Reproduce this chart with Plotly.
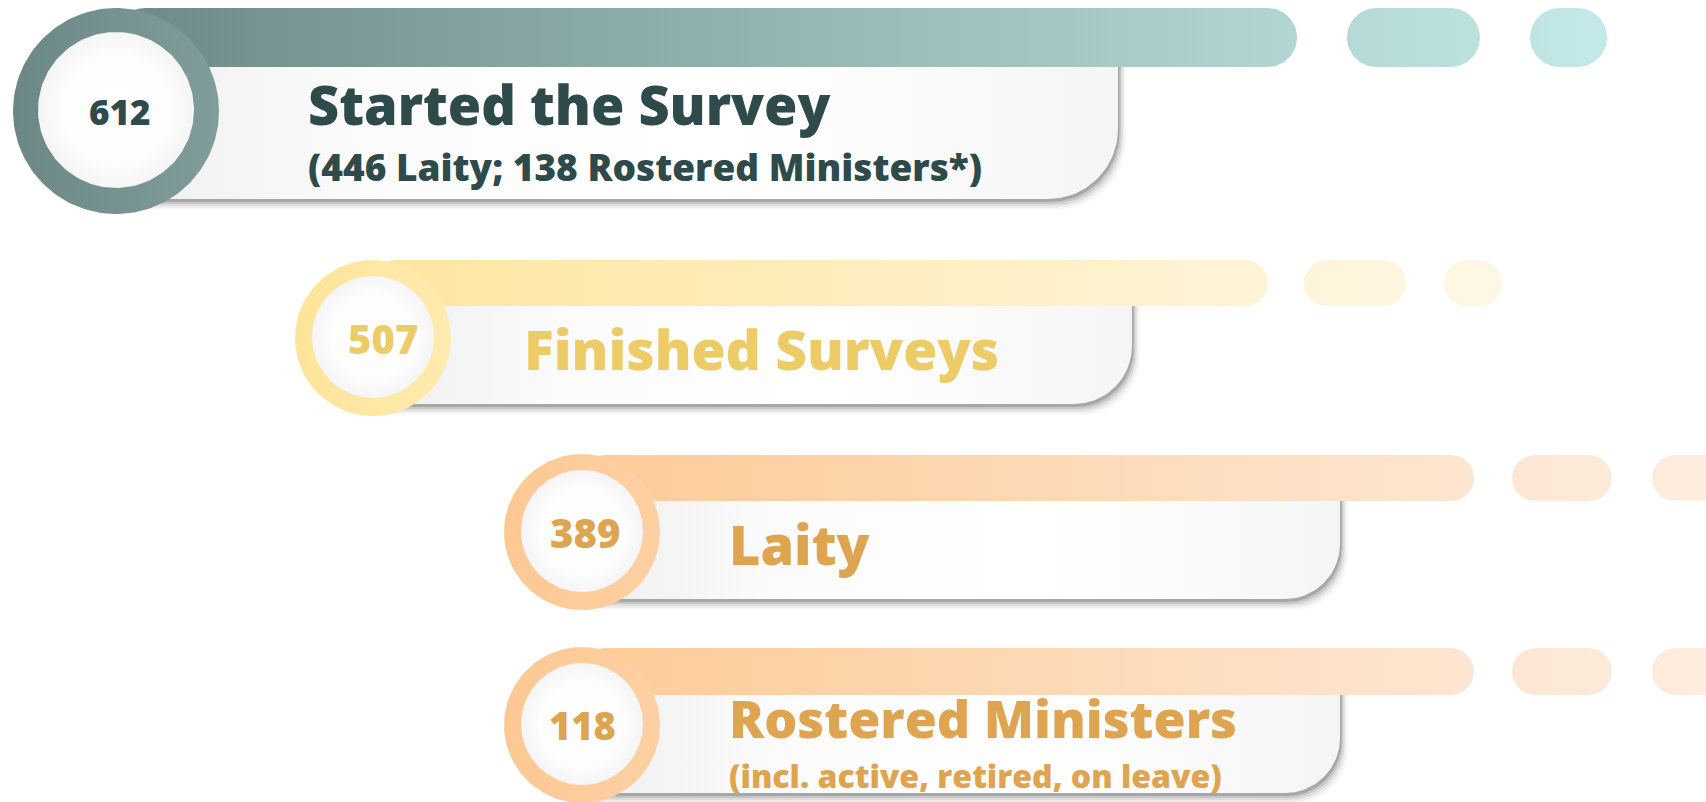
import numpy as np
import plotly.graph_objects as go

# ---------------- data ----------------
counts = [612, 507, 389, 118]
titles = ["Started the Survey", "Finished Surveys", "Laity", "Rostered Ministers"]
subtitles = ["(446 Laity; 138 Rostered Ministers*)", "", "", "(incl. active, retired, on leave)"]

# ---------------- layout geometry (pixels) ----------------
W, H = 1706, 802
cx = [116, 373, 582, 582]
cy = [111, 338, 532, 725]
ring_r = [103, 78, 78, 78]
inner_r = [78, 61, 61, 61]
bar_top = [8, 260, 455, 648]
bar_bot = [67, 306, 501, 695]
bar_end = [1297, 1268, 1474, 1474]
dash_spans = [
    [(1347, 1480), (1530, 1607)],
    [(1304, 1406), (1444, 1502)],
    [(1512, 1612), (1652, 1745)],
    [(1512, 1612), (1652, 1745)],
]
card_right = [1118, 1132, 1340, 1340]
card_bot = [199, 404, 599, 793]
card_rad = [70, 58, 55, 55]
count_dx = [4, 10, 3, 0]
title_x = [306, 522, 727, 727]
title_y = [104, 348, 544, 717]
sub_y = [166, None, None, 775]
count_size = [35, 40, 40, 38]
title_size = [54, 55, 54, 52]
sub_size = [37, 0, 0, 32]

# ---------------- styles ----------------
ring_scale = [
    [[0, "#6C8886"], [1, "#809D9B"]],
    [[0, "#FEE49A"], [1, "#FEEBAE"]],
    [[0, "#FDC893"], [1, "#FDD0A3"]],
    [[0, "#FDC893"], [1, "#FDD0A3"]],
]
bar_scale = [
    [[0, "#6E8A88"], [1, "#C3EAE8"]],
    [[0, "#FEE6A0"], [1, "#FEF7E6"]],
    [[0, "#FDCB98"], [1, "#FDEEE2"]],
    [[0, "#FDCB98"], [1, "#FDEEE2"]],
]
text_color = ["#2F4A4A", "#EDCC68", "#DFA44F", "#DFA44F"]
FONT = "Open Sans"


def stadium(x0, x1, y0, y1, n=40):
    r = (y1 - y0) / 2.0
    yc = (y0 + y1) / 2.0
    t = np.linspace(-np.pi / 2, np.pi / 2, n)
    xr = x1 - r + r * np.cos(t)
    yr = yc + r * np.sin(t)
    t2 = np.linspace(np.pi / 2, 3 * np.pi / 2, n)
    xl = x0 + r + r * np.cos(t2)
    yl = yc + r * np.sin(t2)
    xs = np.concatenate([xr, xl, [xr[0]]])
    ys = np.concatenate([yr, yl, [yr[0]]])
    return xs, ys


def card(x0, x1, y0, y1, rc, n=40):
    t = np.linspace(0, np.pi / 2, n)
    ax = x1 - rc + rc * np.cos(t)
    ay = y1 - rc + rc * np.sin(t)
    xs = np.concatenate([[x0, x1], ax, [x0, x0]])
    ys = np.concatenate([[y0, y0], ay, [y1, y0]])
    return xs, ys


def circle(xc, yc, r, n=160):
    t = np.linspace(0, 2 * np.pi, n)
    return xc + r * np.cos(t), yc + r * np.sin(t)


fig = go.Figure()


def poly(xs, ys, fillcolor=None, gradient=None):
    kw = dict(x=list(xs), y=list(ys), mode="lines", fill="toself",
              line=dict(width=0, color="rgba(0,0,0,0)"), hoverinfo="skip",
              showlegend=False)
    if gradient is not None:
        kw["fillgradient"] = gradient
        kw["fillcolor"] = "rgba(0,0,0,0)"
    else:
        kw["fillcolor"] = fillcolor
    fig.add_trace(go.Scatter(**kw))


for i in range(len(counts)):
    # card shadow (layered, fake blur)
    for dx, dy, a in [(8, 11, 0.03), (6, 9, 0.05), (4.5, 7, 0.08), (3, 5, 0.12), (1.5, 3, 0.2)]:
        xs, ys = card(cx[i], card_right[i] + dx, bar_bot[i], card_bot[i] + dy, card_rad[i])
        poly(xs, ys, fillcolor=f"rgba(40,40,40,{a})")
    # card
    xs, ys = card(cx[i], card_right[i], bar_bot[i], card_bot[i], card_rad[i])
    poly(xs, ys, gradient=dict(type="horizontal",
                               colorscale=[[0, "#EFEFEF"], [0.25, "#FBFBFB"], [0.6, "#FFFFFF"], [1, "#F5F5F5"]],
                               start=cx[i], stop=card_right[i]))
    # bar + dashes
    g_start = cx[i]
    g_stop = dash_spans[i][-1][1]
    grad = dict(type="horizontal", colorscale=bar_scale[i], start=g_start, stop=g_stop)
    xs, ys = stadium(cx[i], bar_end[i], bar_top[i], bar_bot[i])
    poly(xs, ys, gradient=grad)
    for (d0, d1) in dash_spans[i]:
        xs, ys = stadium(d0, d1, bar_top[i], bar_bot[i])
        poly(xs, ys, gradient=grad)
    # ring
    xs, ys = circle(cx[i], cy[i], ring_r[i])
    poly(xs, ys, gradient=dict(type="horizontal", colorscale=ring_scale[i],
                               start=cx[i] - ring_r[i], stop=cx[i] + ring_r[i]))
    # inner circle
    xs, ys = circle(cx[i], cy[i] - 1, inner_r[i])
    poly(xs, ys, gradient=dict(type="radial", colorscale=[[0, "#FFFFFF"], [0.7, "#FDFDFD"], [1, "#F5F5F5"]]))

annotations = []
for i in range(len(counts)):
    annotations.append(dict(x=cx[i] + count_dx[i], y=cy[i], xref="x", yref="y", text=str(counts[i]),
                            showarrow=False, xanchor="center", yanchor="middle",
                            font=dict(family=FONT, size=count_size[i], color=text_color[i], weight=800)))
    annotations.append(dict(x=title_x[i], y=title_y[i], xref="x", yref="y", text=titles[i],
                            showarrow=False, xanchor="left", yanchor="middle",
                            font=dict(family=FONT, size=title_size[i], color=text_color[i], weight=800)))
    if subtitles[i]:
        annotations.append(dict(x=title_x[i], y=sub_y[i], xref="x", yref="y", text=subtitles[i],
                                showarrow=False, xanchor="left", yanchor="middle",
                                font=dict(family=FONT, size=sub_size[i], color=text_color[i], weight=800)))

fig.update_layout(
    width=W, height=H,
    margin=dict(l=0, r=0, t=0, b=0, pad=0),
    paper_bgcolor="white", plot_bgcolor="white",
    xaxis=dict(range=[0, W], visible=False, fixedrange=True),
    yaxis=dict(range=[H, 0], visible=False, fixedrange=True),
    showlegend=False,
    annotations=annotations,
)

fig.write_html("out.html", config={"displayModeBar": False},
               post_script="document.body.style.margin='0';document.body.style.overflow='hidden';")
